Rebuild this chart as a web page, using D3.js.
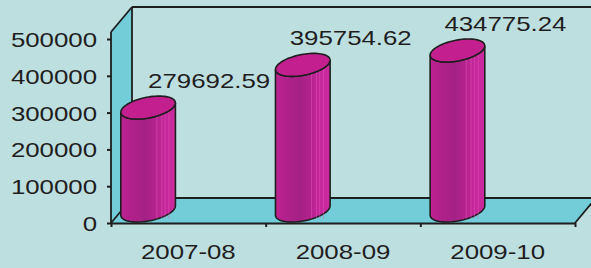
<!DOCTYPE html>
<html>
<head>
<meta charset="utf-8">
<script src="https://cdn.jsdelivr.net/npm/d3@7"></script>
<style>
  html, body { margin: 0; padding: 0; background: #bedfe0; }
  svg { display: block; }
</style>
</head>
<body>
<script>
// chart data
var categories = ["2007-08", "2008-09", "2009-10"];
var values = [279692.59, 395754.62, 434775.24];
var valueLabels = ["279692.59", "395754.62", "434775.24"];
var yTicks = [0, 100000, 200000, 300000, 400000, 500000];

var width = 591, height = 268;
var plotLeft = 111, plotRight = 575, plotBase = 223, plotTop = 39;
var depth = [21, -25];          // oblique depth of the floor / walls
var stretch = 1.23;             // text in the picture is stretched sideways
var ink = "#1e1e1e";

var svg = d3.select("body").append("svg")
  .attr("width", width)
  .attr("height", height);

var x = d3.scaleBand().domain(categories).range([plotLeft, plotRight]);
var y = d3.scaleLinear().domain([0, 500000]).range([plotBase, plotTop]);

var defs = svg.append("defs");
var grad = defs.append("linearGradient").attr("id", "barGrad");
[[0, "#bd2291"], [0.18, "#b2218b"], [0.45, "#a42185"], [0.62, "#b3228d"], [0.8, "#c5269a"], [1, "#cc2ba0"]]
  .forEach(function(s){ grad.append("stop").attr("offset", s[0]).attr("stop-color", s[1]); });

/*
Walls and floor.
*/
var wallTop = y(500000) - 7;   // top of the side wall
var L = plotLeft, R = plotRight, B = plotBase;
svg.append("polygon")
  .attr("points", [[L, wallTop], [L + depth[0], wallTop + depth[1]], [L + depth[0], B + depth[1]], [L, B]].join(" "))
  .style("fill", "#72cdd9");

svg.append("polygon")
  .attr("points", [[L, B], [R, B], [R + depth[0], B + depth[1]], [L + depth[0], B + depth[1]]].join(" "))
  .style("fill", "#72cdd9");

var edges = [
  [[L, wallTop], [L + depth[0], wallTop + depth[1]]],
  [[L + depth[0], wallTop + depth[1]], [width + 5, wallTop + depth[1]]],
  [[L + depth[0], wallTop + depth[1]], [L + depth[0], B + depth[1]]],
  [[L + depth[0], B + depth[1]], [R + depth[0], B + depth[1]]],
  [[L, B], [L + depth[0], B + depth[1]]],
  [[R, B], [R + depth[0], B + depth[1]]],
  [[L, wallTop], [L, B]]
];
svg.selectAll("line.edge")
  .data(edges)
  .enter()
  .append("line")
  .attr("class", "edge")
  .attr("x1", function(d){return d[0][0];})
  .attr("y1", function(d){return d[0][1];})
  .attr("x2", function(d){return d[1][0];})
  .attr("y2", function(d){return d[1][1];})
  .style("stroke", ink)
  .style("stroke-width", 1.8);

/*
Axes.
*/
var yAxis = svg.append("g")
  .attr("transform", "translate(" + L + ",0)")
  .call(d3.axisLeft(y).tickValues(yTicks).tickFormat(d3.format("d")).tickSize(4).tickSizeOuter(0));
yAxis.select(".domain").remove();
yAxis.selectAll(".tick line").style("stroke", ink).style("stroke-width", 2);
yAxis.selectAll(".tick text")
  .attr("x", -14 / stretch)
  .attr("dy", "0.36em")
  .attr("transform", "scale(" + stretch + ",1)")
  .style("font-family", "'Liberation Sans', Arial, sans-serif")
  .style("font-size", "21px")
  .style("fill", ink);

var xTickScale = d3.scaleLinear().domain([0, categories.length]).range([L, R]);
var xTicks = svg.append("g")
  .attr("transform", "translate(0," + B + ")")
  .call(d3.axisBottom(xTickScale).ticks(categories.length).tickFormat("").tickSize(4).tickSizeOuter(0));
xTicks.select(".domain").style("stroke", ink).style("stroke-width", 2);
xTicks.selectAll(".tick line").style("stroke", ink).style("stroke-width", 2);

var xAxis = svg.append("g")
  .attr("transform", "translate(0," + B + ")")
  .call(d3.axisBottom(x).tickSize(0));
xAxis.select(".domain").remove();
xAxis.selectAll(".tick text")
  .attr("y", 36)
  .attr("dy", 0)
  .attr("transform", "scale(" + stretch + ",1)")
  .style("font-family", "'Liberation Sans', Arial, sans-serif")
  .style("font-size", "21px")
  .style("fill", ink);

/*
Cylinders.
*/
var ra = 25, rd = [11, -11.5];   // ellipse radii: across, and along depth
var t0 = Math.atan2(rd[0], ra);

function rim(cx, cy, t){
  return [cx + ra * Math.cos(t) + rd[0] * Math.sin(t), cy + rd[1] * Math.sin(t)];
}
function arc(cx, cy, from, to, n){
  var pts = [];
  for (var i = 0; i <= n; i++) pts.push(rim(cx, cy, from + (to - from) * i / n));
  return pts;
}

var bars = svg.selectAll("g.bar")
  .data(values)
  .enter()
  .append("g")
  .attr("class", "bar");

var minLabelX = L + x.bandwidth() * 0.24;   // labels keep clear of the side wall

bars.each(function(v, i){
  var g = d3.select(this);
  var cx = x(categories[i]) + x.bandwidth() * 0.24;
  var yb = y(0) + depth[1] / 2, yt = y(v) + depth[1] / 2;

  // body: right edge down, bottom front arc, left edge up, top front arc
  var body = arc(cx, yb, t0, t0 - Math.PI, 40)
    .concat(arc(cx, yt, t0 - Math.PI, t0, 40));
  g.append("path")
    .attr("d", d3.line()(body) + "Z")
    .style("fill", "url(#barGrad)")
    .style("stroke", ink)
    .style("stroke-width", 1.6);

  // faint vertical strips on the right side
  var w = Math.sqrt(ra * ra + rd[0] * rd[0]);
  [0.32, 0.5, 0.62, 0.76].forEach(function(f){
    var sx = cx + w * f;
    g.append("line")
      .attr("x1", sx).attr("x2", sx)
      .attr("y1", yt + 4).attr("y2", yb + 8)
      .style("stroke", "#e25ab8")
      .style("stroke-width", 0.8)
      .style("opacity", 0.6);
  });

  g.append("path")
    .attr("d", d3.line()(arc(cx, yt, 0, 2 * Math.PI, 80)) + "Z")
    .style("fill", "#c31f8f")
    .style("stroke", ink)
    .style("stroke-width", 1.6);

  // value label above the cylinder
  var label = g.append("text")
    .text(valueLabels[i])
    .style("font-family", "'Liberation Sans', Arial, sans-serif")
    .style("font-size", "21px")
    .style("fill", ink);
  var tw = label.node().getComputedTextLength() * stretch;
  var lx = Math.max(cx + 48 - tw / 2, minLabelX);
  label.attr("transform", "translate(" + lx + "," + (yt + rd[1] - 8) + ") scale(" + stretch + ",1)");
});
</script>
</body>
</html>
